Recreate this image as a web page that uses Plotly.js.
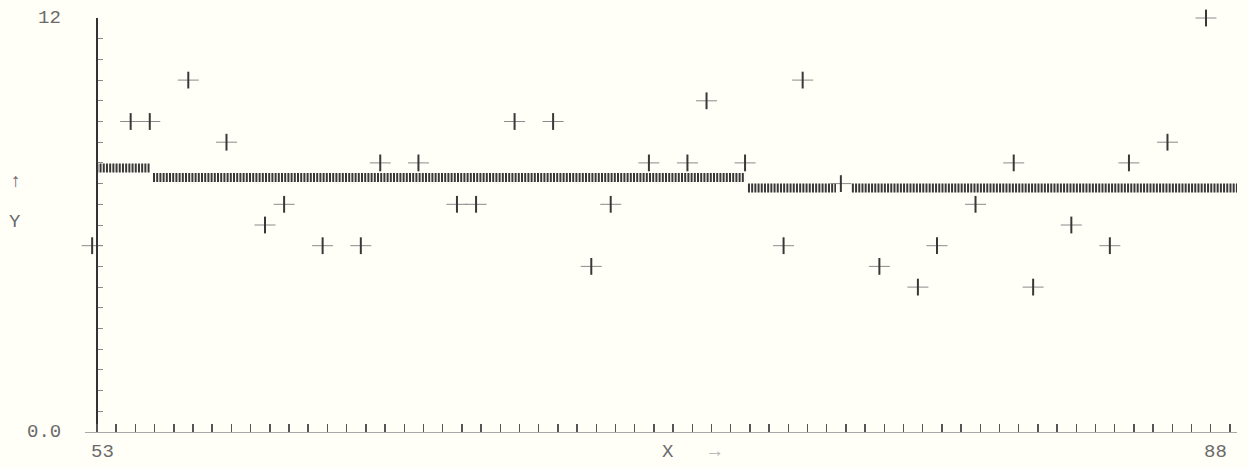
<!DOCTYPE html>
<html>
<head>
<meta charset="utf-8">
<script src="https://cdn.plot.ly/plotly-3.0.1.min.js"></script>
<style>
  html, body { margin: 0; padding: 0; background: #fffef7; }
  #chart { width: 1247px; height: 468px; }
</style>
</head>
<body>
<div id="chart"></div>
<script>
// Observations (x in axis units 53..88, y in 0..12)
const obsX = [52.85, 54.04, 54.63, 55.82, 57.00, 58.19, 58.78, 59.97, 61.15, 61.75,
              62.93, 64.12, 64.71, 65.90, 67.09, 68.27, 68.87, 70.05, 71.24, 71.83,
              73.02, 74.21, 74.80, 75.98, 77.17, 78.36, 78.95, 80.14, 81.32, 81.92,
              83.10, 84.29, 84.88, 86.07, 87.26];
const obsY = [5.4, 9.0, 9.0, 10.2, 8.4, 6.0, 6.6, 5.4, 5.4, 7.8,
              7.8, 6.6, 6.6, 9.0, 9.0, 4.8, 6.6, 7.8, 7.8, 9.6,
              7.8, 5.4, 10.2, 7.2, 4.8, 4.2, 5.4, 6.6, 7.8, 4.2,
              6.0, 5.4, 7.8, 8.4, 12.0];

// Step (level) segments
const stepStart = [52.98, 54.73, 73.11, 76.32];
const stepEnd   = [54.64, 73.02, 75.83, 88.22];
const stepLevel = [7.65, 7.38, 7.07, 7.07];

// Axis labels
const xMinLabel = "53";
const xMaxLabel = "88";
const yMinLabel = "0.0";
const yMaxLabel = "12";
const xTitle = "X";
const yTitle = "Y";

const xMin = 53, xMax = 88, yMin = 0, yMax = 12;
const xLo = 52.629, xHi = 88.218;

// build step trace from segments
const sx = [], sy = [];
stepStart.forEach((s, i) => {
  sx.push(s, stepEnd[i], null);
  sy.push(stepLevel[i], stepLevel[i], null);
});

const ink = '#383838';
const labelFont = {family: 'Liberation Mono, DejaVu Sans Mono, monospace', size: 19, color: '#6a6a6a'};

const traces = [
  {
    x: sx, y: sy, type: 'scatter', mode: 'lines', cliponaxis: false,
    line: {color: '#383838', width: 9, dash: '2px,1.2px'},
    hoverinfo: 'skip', showlegend: false
  },
  {
    x: obsX, y: obsY, type: 'scatter', mode: 'markers', cliponaxis: false,
    marker: {symbol: 'line-ew', size: 15, line: {color: '#8a8a8a', width: 1}},
    showlegend: false
  },
  {
    x: obsX, y: obsY, type: 'scatter', mode: 'markers', cliponaxis: false,
    marker: {symbol: 'line-ns', size: 12, line: {color: ink, width: 2}},
    showlegend: false
  }
];

const layout = {
  width: 1247, height: 468,
  paper_bgcolor: '#fffef7', plot_bgcolor: '#fffef7',
  margin: {l: 85, r: 10, t: 18, b: 36},
  showlegend: false,
  xaxis: {
    range: [xLo, xHi], showgrid: false, zeroline: false,
    showline: false,
    tickmode: 'linear', tick0: xMin, dtick: (xMax - xMin) / 59,
    ticks: 'inside', ticklen: 8, tickwidth: 1.5, tickcolor: '#555',
    showticklabels: false
  },
  yaxis: {
    range: [yMin, yMax], showgrid: false, zeroline: true,
    zerolinecolor: '#a8a8a8', zerolinewidth: 1,
    anchor: 'free', position: (xMin - xLo) / (xHi - xLo),
    showline: true, linecolor: '#333', linewidth: 2,
    tickmode: 'linear', tick0: 0, dtick: 0.6,
    ticks: 'inside', ticklen: 5, tickwidth: 1, tickcolor: '#8a8a8a',
    showticklabels: false
  },
  annotations: [
    {text: yMaxLabel, xref: 'x', yref: 'y', x: xMin, y: yMax, xanchor: 'right', yanchor: 'middle', xshift: -34, showarrow: false, font: labelFont},
    {text: yMinLabel, xref: 'x', yref: 'y', x: xMin, y: yMin, xanchor: 'right', yanchor: 'middle', xshift: -34, showarrow: false, font: labelFont},
    {text: '↑', xref: 'x', yref: 'y', x: xMin, y: 7.25, xanchor: 'center', yanchor: 'middle', xshift: -82, showarrow: false, font: {family: labelFont.family, size: 19, color: '#6a6a6a'}},
    {text: yTitle, xref: 'x', yref: 'y', x: xMin, y: 6.09, xanchor: 'center', yanchor: 'middle', xshift: -82, showarrow: false, font: labelFont},
    {text: xMinLabel, xref: 'x', yref: 'paper', x: xMin, y: 0, xanchor: 'center', yanchor: 'middle', xshift: 5, yshift: -20, showarrow: false, font: labelFont},
    {text: xMaxLabel, xref: 'x', yref: 'paper', x: xMax, y: 0, xanchor: 'center', yanchor: 'middle', xshift: -14, yshift: -20, showarrow: false, font: labelFont},
    {text: xTitle, xref: 'x', yref: 'paper', x: 70.64, y: 0, xanchor: 'center', yanchor: 'middle', yshift: -20, showarrow: false, font: labelFont},
    {text: '→', xref: 'x', yref: 'paper', x: 72.09, y: 0, xanchor: 'center', yanchor: 'middle', yshift: -20, showarrow: false, font: {family: labelFont.family, size: 19, color: '#b0b0b0'}}
  ]
};

Plotly.newPlot('chart', traces, layout, {staticPlot: true, displayModeBar: false});
</script>
</body>
</html>
